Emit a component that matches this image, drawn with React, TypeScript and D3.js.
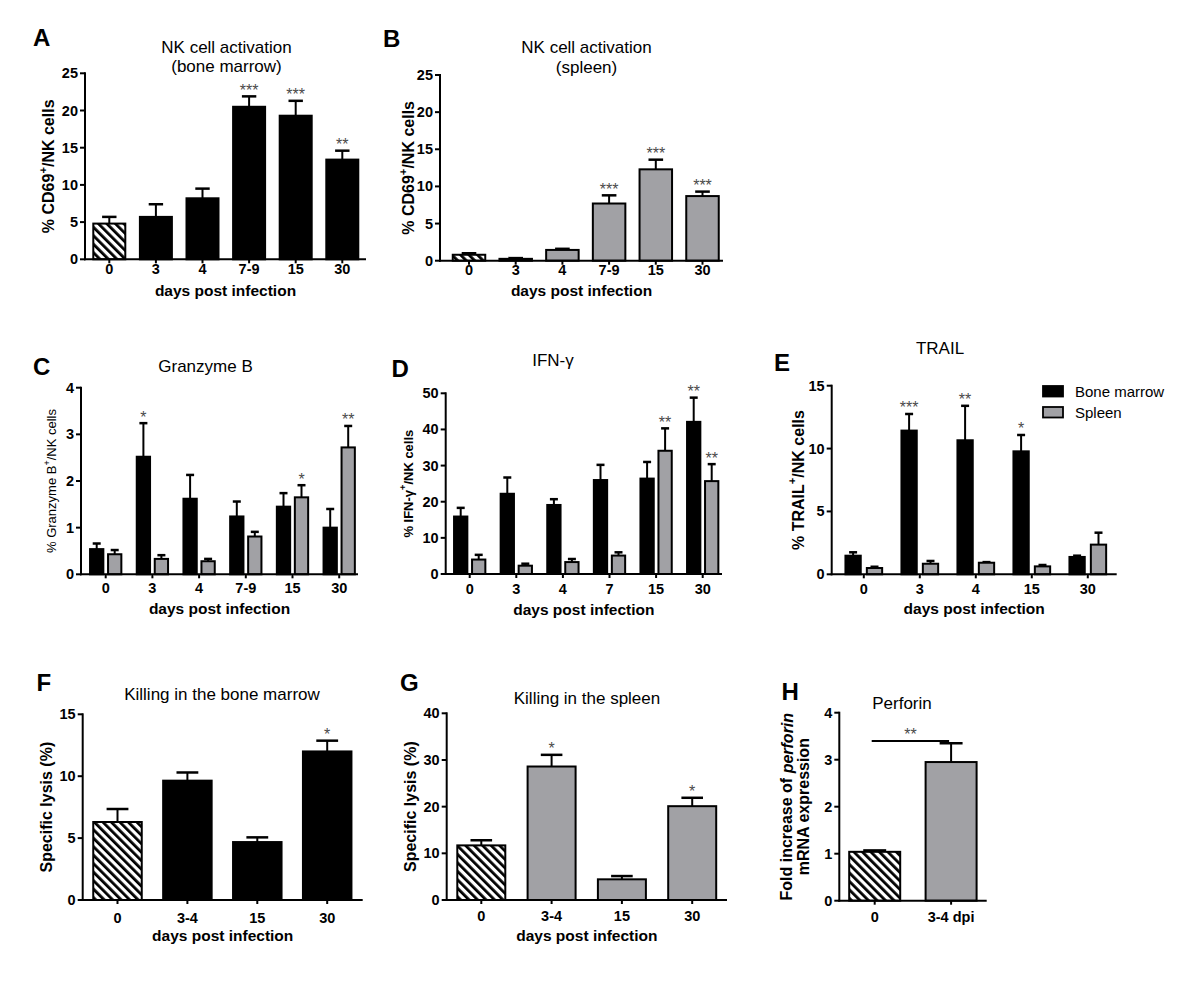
import React from "react";
import * as d3 from "d3";

// ---------------- data ----------------
const daysA = ["0", "3", "4", "7-9", "15", "30"];
const cd69BoneMarrow = [4.8, 5.7, 8.2, 20.5, 19.3, 13.4];
const cd69BoneMarrowErr = [0.9, 1.7, 1.3, 1.4, 2.0, 1.2];
const cd69BoneMarrowSig = ["", "", "", "***", "***", "**"];
const ticksA = [0, 5, 10, 15, 20, 25];

const daysB = ["0", "3", "4", "7-9", "15", "30"];
const cd69Spleen = [0.8, 0.25, 1.45, 7.7, 12.3, 8.7];
const cd69SpleenErr = [0.2, 0.1, 0.15, 1.1, 1.3, 0.6];
const cd69SpleenSig = ["", "", "", "***", "***", "***"];
const ticksB = [0, 5, 10, 15, 20, 25];

const daysC = ["0", "3", "4", "7-9", "15", "30"];
const grzBoneMarrow = [0.54, 2.52, 1.62, 1.24, 1.45, 1.0];
const grzBoneMarrowErr = [0.12, 0.72, 0.51, 0.32, 0.29, 0.4];
const grzBoneMarrowSig = ["", "*", "", "", "", ""];
const grzSpleen = [0.43, 0.33, 0.28, 0.81, 1.65, 2.72];
const grzSpleenErr = [0.09, 0.08, 0.05, 0.1, 0.26, 0.46];
const grzSpleenSig = ["", "", "", "", "*", "**"];
const ticksC = [0, 1, 2, 3, 4];

const daysD = ["0", "3", "4", "7", "15", "30"];
const ifnBoneMarrow = [15.9, 22.2, 19.1, 26.0, 26.4, 42.1];
const ifnBoneMarrowErr = [2.4, 4.5, 1.6, 4.2, 4.6, 6.7];
const ifnBoneMarrowSig = ["", "", "", "", "", "**"];
const ifnSpleen = [4.0, 2.3, 3.3, 5.1, 34.1, 25.7];
const ifnSpleenErr = [1.3, 0.55, 0.85, 0.9, 6.2, 4.7];
const ifnSpleenSig = ["", "", "", "", "**", "**"];
const ticksD = [0, 10, 20, 30, 40, 50];

const daysE = ["0", "3", "4", "15", "30"];
const trailBoneMarrow = [1.48, 11.43, 10.66, 9.78, 1.38];
const trailBoneMarrowErr = [0.27, 1.32, 2.74, 1.3, 0.1];
const trailBoneMarrowSig = ["", "***", "**", "*", ""];
const trailSpleen = [0.5, 0.84, 0.92, 0.63, 2.36];
const trailSpleenErr = [0.1, 0.22, 0.05, 0.11, 0.95];
const trailSpleenSig = ["", "", "", "", ""];
const ticksE = [0, 5, 10, 15];

const daysF = ["0", "3-4", "15", "30"];
const lysisBoneMarrow = [6.3, 9.64, 4.68, 12.0];
const lysisBoneMarrowErr = [1.05, 0.66, 0.38, 0.87];
const lysisBoneMarrowSig = ["", "", "", "*"];
const ticksF = [0, 5, 10, 15];

const daysG = ["0", "3-4", "15", "30"];
const lysisSpleen = [11.7, 28.6, 4.43, 20.1];
const lysisSpleenErr = [1.1, 2.5, 0.7, 1.8];
const lysisSpleenSig = ["", "*", "", "*"];
const ticksG = [0, 10, 20, 30, 40];

const daysH = ["0", "3-4 dpi"];
const perforinFold = [1.04, 2.95];
const perforinFoldErr = [0.03, 0.4];
const perforinSig = "**";
const ticksH = [0, 1, 2, 3, 4];

const legendLabels = ["Bone marrow", "Spleen"];

// ---------------- styles ----------------
const FONT = "'Liberation Sans', Arial, Helvetica, sans-serif";
const GREY = "#a1a1a5";
const STAR = "#4a4a4a";
const TICK_FS = 14.5;
const STAR_FS = 16;

type Series = {
  values: number[];
  err: number[];
  sig: string[];
  fill: string;
  hatchFirst?: boolean;
  offset: number;
};

type PanelCfg = {
  letter: string;
  letterX: number;
  letterY: number;
  title: string[];
  titleX: number;
  titleY: number[];
  cats: string[];
  ticks: number[];
  axisX: number;
  axisEnd: number;
  y0: number;
  yTop: number;
  firstCenter: number;
  step: number;
  bw: number;
  series: Series[];
  tickLabelDy: number;
  xTitleDy: number | null;
  yLabel: React.ReactNode;
  yLabelX: number;
  yLabelSize: number;
  yLabelWeight: string;
};

const Sup = ({ t }: { t: string }) => (
  <tspan baselineShift="super" fontSize="70%">
    {t}
  </tspan>
);

function Panel({ cfg }: { cfg: PanelCfg }) {
  const yMax = cfg.ticks[cfg.ticks.length - 1];
  const y = d3.scaleLinear().domain([0, yMax]).range([cfg.y0, cfg.yTop]);
  const n = cfg.cats.length;
  const start = cfg.firstCenter - cfg.step / 2;
  const x = d3
    .scaleBand<string>()
    .domain(cfg.cats)
    .range([start, start + n * cfg.step])
    .padding(0);
  const center = (c: string) => (x(c) as number) + x.bandwidth() / 2;
  const capW = Math.max(8, cfg.bw * 0.45);
  const midY = (cfg.y0 + cfg.yTop) / 2;

  return (
    <g fontFamily={FONT}>
      <text x={cfg.letterX} y={cfg.letterY} fontSize={24} fontWeight="bold">
        {cfg.letter}
      </text>
      {cfg.title.map((t, i) => (
        <text key={i} x={cfg.titleX} y={cfg.titleY[i]} fontSize={17} textAnchor="middle">
          {t}
        </text>
      ))}
      {cfg.series.map((s, si) =>
        cfg.cats.map((c, i) => {
          const cx = center(c) + s.offset;
          const v = s.values[i];
          const top = y(v);
          const et = y(v + s.err[i]);
          const fill = s.hatchFirst && i === 0 ? "url(#hatch)" : s.fill;
          return (
            <g key={`${si}-${i}`}>
              <line x1={cx} x2={cx} y1={top} y2={et} stroke="#000" strokeWidth={2} />
              <line x1={cx - capW / 2} x2={cx + capW / 2} y1={et} y2={et} stroke="#000" strokeWidth={2.5} />
              <rect
                x={cx - cfg.bw / 2}
                y={top}
                width={cfg.bw}
                height={cfg.y0 - top}
                fill={fill}
                stroke="#000"
                strokeWidth={2}
              />
              {s.sig[i] ? (
                <text x={cx} y={et - 0.5} fontSize={STAR_FS} fill={STAR} textAnchor="middle">
                  {s.sig[i]}
                </text>
              ) : null}
            </g>
          );
        })
      )}
      <line x1={cfg.axisX} x2={cfg.axisX} y1={cfg.y0 + 1} y2={cfg.yTop - 1} stroke="#000" strokeWidth={2} />
      {cfg.ticks.map((t) => (
        <g key={t}>
          <line x1={cfg.axisX - 5} x2={cfg.axisX} y1={y(t)} y2={y(t)} stroke="#000" strokeWidth={2} />
          <text
            x={cfg.axisX - 7}
            y={y(t)}
            fontSize={TICK_FS}
            fontWeight="bold"
            textAnchor="end"
            dominantBaseline="central"
          >
            {t}
          </text>
        </g>
      ))}
      <line x1={cfg.axisX - 1} x2={cfg.axisEnd} y1={cfg.y0} y2={cfg.y0} stroke="#000" strokeWidth={2} />
      {cfg.cats.map((c) => (
        <g key={c}>
          <line x1={center(c)} x2={center(c)} y1={cfg.y0} y2={cfg.y0 + 4} stroke="#000" strokeWidth={2} />
          <text
            x={center(c)}
            y={cfg.y0 + cfg.tickLabelDy}
            fontSize={TICK_FS}
            fontWeight="bold"
            textAnchor="middle"
            dominantBaseline="central"
          >
            {c}
          </text>
        </g>
      ))}
      {cfg.xTitleDy !== null ? (
        <text
          x={(cfg.axisX + cfg.axisEnd) / 2}
          y={cfg.y0 + (cfg.xTitleDy as number)}
          fontSize={15.5}
          fontWeight="bold"
          textAnchor="middle"
          dominantBaseline="central"
        >
          days post infection
        </text>
      ) : null}
      <text
        transform={`translate(${cfg.yLabelX},${midY}) rotate(-90)`}
        fontSize={cfg.yLabelSize}
        fontWeight={cfg.yLabelWeight}
        textAnchor="middle"
        dominantBaseline="central"
      >
        {cfg.yLabel}
      </text>
    </g>
  );
}

const panels: PanelCfg[] = [
  {
    letter: "A", letterX: 33, letterY: 46,
    title: ["NK cell activation", "(bone marrow)"], titleX: 226.5, titleY: [52.5, 72],
    cats: daysA, ticks: ticksA,
    axisX: 85, axisEnd: 366, y0: 259.3, yTop: 73.3,
    firstCenter: 109.3, step: 46.6, bw: 32,
    series: [{ values: cd69BoneMarrow, err: cd69BoneMarrowErr, sig: cd69BoneMarrowSig, fill: "#000", hatchFirst: true, offset: 0 }],
    tickLabelDy: 10, xTitleDy: 31,
    yLabel: (<>% CD69<Sup t="+" />/NK cells</>), yLabelX: 48.5, yLabelSize: 16, yLabelWeight: "bold",
  },
  {
    letter: "B", letterX: 383, letterY: 47,
    title: ["NK cell activation", "(spleen)"], titleX: 586.5, titleY: [53, 72.5],
    cats: daysB, ticks: ticksB,
    axisX: 440, axisEnd: 723, y0: 260.7, yTop: 75,
    firstCenter: 469, step: 46.7, bw: 32.5,
    series: [{ values: cd69Spleen, err: cd69SpleenErr, sig: cd69SpleenSig, fill: GREY, hatchFirst: true, offset: 0 }],
    tickLabelDy: 9.5, xTitleDy: 30,
    yLabel: (<>% CD69<Sup t="+" />/NK cells</>), yLabelX: 408.5, yLabelSize: 16, yLabelWeight: "bold",
  },
  {
    letter: "C", letterX: 33, letterY: 375,
    title: ["Granzyme B"], titleX: 205.5, titleY: [372],
    cats: daysC, ticks: ticksC,
    axisX: 81, axisEnd: 358, y0: 574.3, yTop: 387.7,
    firstCenter: 105.7, step: 46.7, bw: 13.3,
    series: [
      { values: grzBoneMarrow, err: grzBoneMarrowErr, sig: grzBoneMarrowSig, fill: "#000", offset: -9 },
      { values: grzSpleen, err: grzSpleenErr, sig: grzSpleenSig, fill: GREY, offset: 9 },
    ],
    tickLabelDy: 14, xTitleDy: 34,
    yLabel: (<>% Granzyme B<Sup t="+" />/NK cells</>), yLabelX: 51.7, yLabelSize: 13, yLabelWeight: "normal",
  },
  {
    letter: "D", letterX: 391.5, letterY: 377,
    title: ["IFN-γ"], titleX: 553, titleY: [366],
    cats: daysD, ticks: ticksD,
    axisX: 445.7, axisEnd: 722, y0: 574, yTop: 393.3,
    firstCenter: 469.7, step: 46.6, bw: 13.3,
    series: [
      { values: ifnBoneMarrow, err: ifnBoneMarrowErr, sig: ifnBoneMarrowSig, fill: "#000", offset: -9 },
      { values: ifnSpleen, err: ifnSpleenErr, sig: ifnSpleenSig, fill: GREY, offset: 9 },
    ],
    tickLabelDy: 15, xTitleDy: 35,
    yLabel: (<>% IFN-γ<Sup t="+" />/NK cells</>), yLabelX: 408.3, yLabelSize: 13, yLabelWeight: "bold",
  },
  {
    letter: "E", letterX: 774, letterY: 370.5,
    title: ["TRAIL"], titleX: 940, titleY: [353.5],
    cats: daysE, ticks: ticksE,
    axisX: 831.7, axisEnd: 1116.7, y0: 574.3, yTop: 385.7,
    firstCenter: 863.8, step: 56, bw: 15.3,
    series: [
      { values: trailBoneMarrow, err: trailBoneMarrowErr, sig: trailBoneMarrowSig, fill: "#000", offset: -10.7 },
      { values: trailSpleen, err: trailSpleenErr, sig: trailSpleenSig, fill: GREY, offset: 10.7 },
    ],
    tickLabelDy: 15, xTitleDy: 34.5,
    yLabel: (<>% TRAIL<Sup t="+" />/NK cells</>), yLabelX: 798.3, yLabelSize: 16, yLabelWeight: "bold",
  },
  {
    letter: "F", letterX: 36.5, letterY: 690.5,
    title: ["Killing in the bone marrow"], titleX: 222, titleY: [700],
    cats: daysF, ticks: ticksF,
    axisX: 82.7, axisEnd: 362.7, y0: 900, yTop: 714.3,
    firstCenter: 117.5, step: 69.9, bw: 48.5,
    series: [{ values: lysisBoneMarrow, err: lysisBoneMarrowErr, sig: lysisBoneMarrowSig, fill: "#000", hatchFirst: true, offset: 0 }],
    tickLabelDy: 17.5, xTitleDy: 35.5,
    yLabel: "Specific lysis (%)", yLabelX: 46.7, yLabelSize: 16, yLabelWeight: "bold",
  },
  {
    letter: "G", letterX: 400, letterY: 690.5,
    title: ["Killing in the spleen"], titleX: 587, titleY: [703.5],
    cats: daysG, ticks: ticksG,
    axisX: 446.7, axisEnd: 727, y0: 900, yTop: 713.3,
    firstCenter: 481.3, step: 70.3, bw: 48,
    series: [{ values: lysisSpleen, err: lysisSpleenErr, sig: lysisSpleenSig, fill: GREY, hatchFirst: true, offset: 0 }],
    tickLabelDy: 16, xTitleDy: 35,
    yLabel: "Specific lysis (%)", yLabelX: 410, yLabelSize: 16, yLabelWeight: "bold",
  },
  {
    letter: "H", letterX: 781.5, letterY: 700,
    title: ["Perforin"], titleX: 902, titleY: [708.5],
    cats: daysH, ticks: ticksH,
    axisX: 839.3, axisEnd: 986.7, y0: 900.7, yTop: 712.7,
    firstCenter: 874.7, step: 76.4, bw: 51,
    series: [{ values: perforinFold, err: perforinFoldErr, sig: ["", ""], fill: GREY, hatchFirst: true, offset: 0 }],
    tickLabelDy: 16, xTitleDy: null,
    yLabel: null, yLabelX: 0, yLabelSize: 16, yLabelWeight: "bold",
  },
];

export default function App() {
  const pH = panels[7];
  const yH = d3.scaleLinear().domain([0, ticksH[ticksH.length - 1]]).range([pH.y0, pH.yTop]);
  const xH = d3
    .scaleBand<string>()
    .domain(daysH)
    .range([pH.firstCenter - pH.step / 2, pH.firstCenter - pH.step / 2 + daysH.length * pH.step]);
  const bracketY = yH(3.4);
  const bx1 = (xH(daysH[0]) as number) + xH.bandwidth() / 2 - 3;
  const bx2 = (xH(daysH[1]) as number) + xH.bandwidth() / 2 - 2;
  const hMid = (pH.y0 + pH.yTop) / 2;

  return (
    <svg width={1200} height={981} style={{ display: "block", position: "absolute", left: 0, top: 0, background: "#fff" }}>
      <defs>
        <pattern id="hatch" patternUnits="userSpaceOnUse" width={6} height={6} patternTransform="rotate(-45)">
          <rect width={6} height={6} fill="#fff" />
          <line x1={1.4} x2={1.4} y1={0} y2={6} stroke="#000" strokeWidth={2.8} />
        </pattern>
      </defs>
      <rect width={1200} height={981} fill="#fff" />
      {panels.map((p) => (
        <Panel key={p.letter} cfg={p} />
      ))}
      <g fontFamily={FONT}>
        {legendLabels.map((l, i) => (
          <g key={l}>
            <rect
              x={1043}
              y={386 + i * 21}
              width={20}
              height={10.5}
              fill={i === 0 ? "#000" : GREY}
              stroke="#000"
              strokeWidth={1.8}
            />
            <text x={1075} y={391.5 + i * 21} fontSize={15} dominantBaseline="central">
              {l}
            </text>
          </g>
        ))}
      </g>
      <g fontFamily={FONT}>
        <line x1={bx1} x2={bx2} y1={bracketY} y2={bracketY} stroke="#000" strokeWidth={2} />
        <text x={(bx1 + bx2) / 2} y={bracketY - 1} fontSize={STAR_FS} fill={STAR} textAnchor="middle">
          {perforinSig}
        </text>
        <text
          transform={`translate(786.7,${hMid}) rotate(-90)`}
          fontSize={16}
          fontWeight="bold"
          textAnchor="middle"
          dominantBaseline="central"
        >
          Fold increase of <tspan fontStyle="italic">perforin</tspan>
        </text>
        <text
          transform={`translate(803.3,${hMid}) rotate(-90)`}
          fontSize={16}
          fontWeight="bold"
          textAnchor="middle"
          dominantBaseline="central"
        >
          mRNA expression
        </text>
      </g>
    </svg>
  );
}
